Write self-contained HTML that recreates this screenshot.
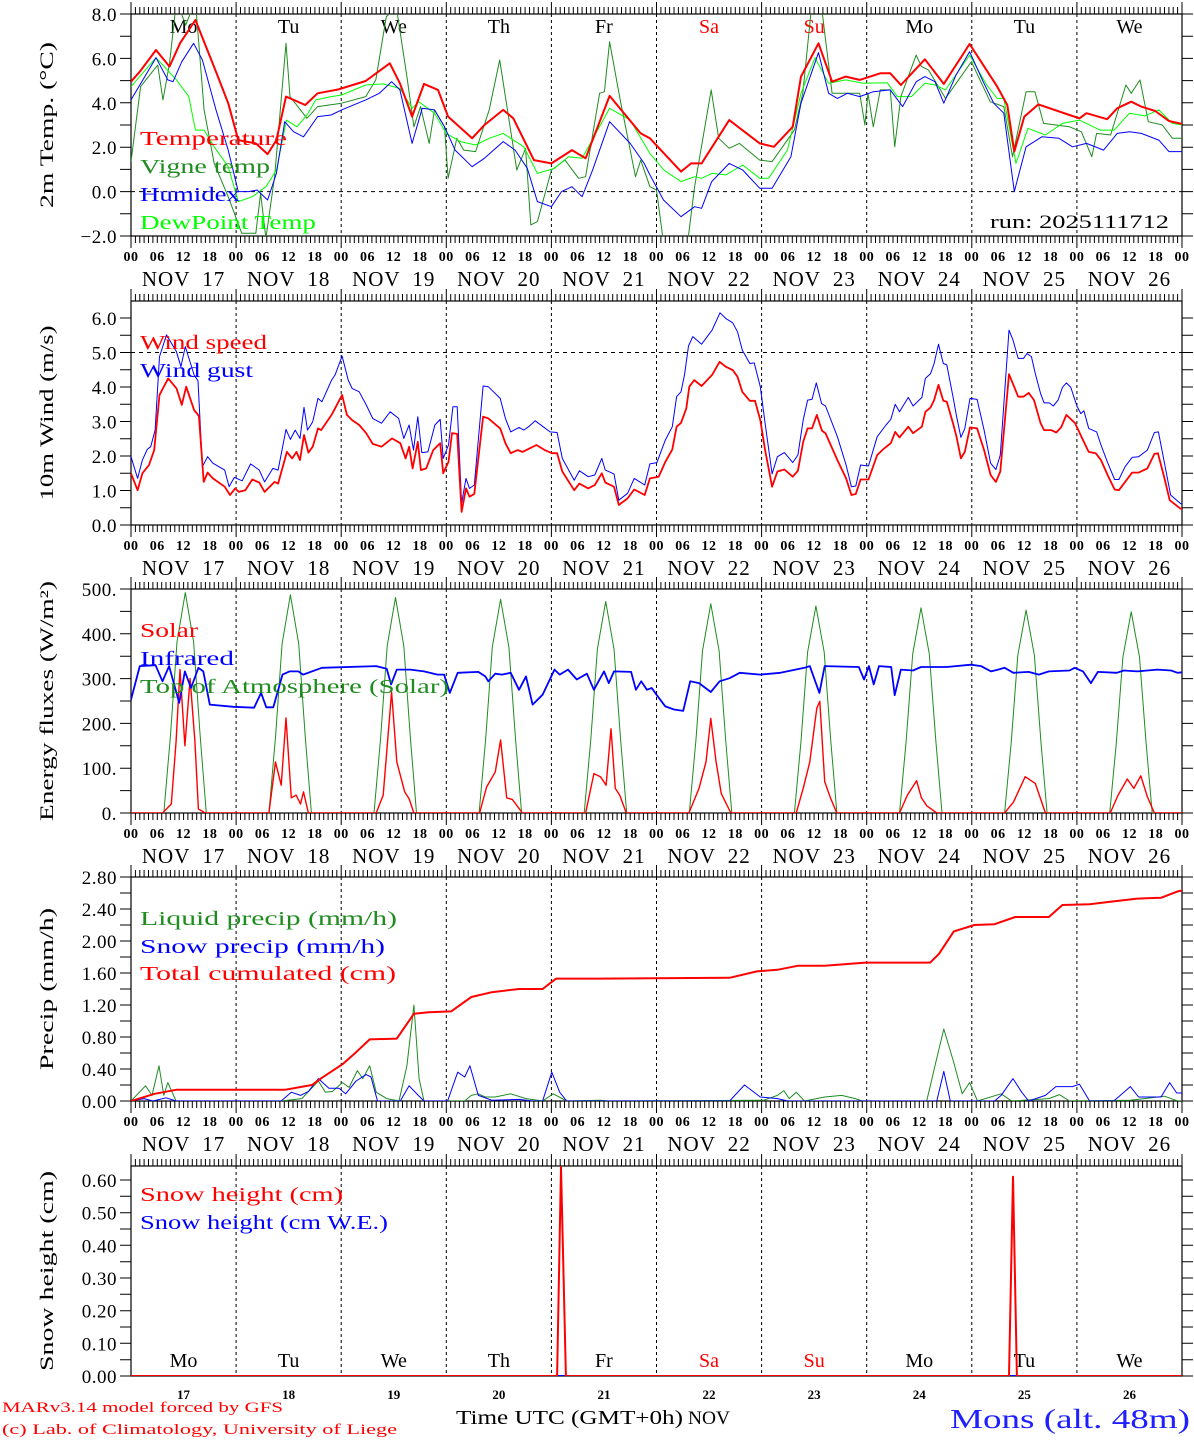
<!DOCTYPE html>
<html><head><meta charset="utf-8"><title>MAR forecast - Mons</title>
<style>
html,body{margin:0;padding:0;background:#fff;}
svg{display:block;font-family:"Liberation Serif",serif;}
</style></head>
<body>
<svg id="chart" xmlns="http://www.w3.org/2000/svg" width="1194" height="1440" viewBox="0 0 1194 1440">
<rect x="0" y="0" width="1194" height="1440" fill="#fff"/>
<defs>
<clipPath id="c1"><rect x="131" y="14" width="1051" height="222"/></clipPath>
<clipPath id="c2"><rect x="131" y="301" width="1051" height="224"/></clipPath>
<clipPath id="c3"><rect x="131" y="589" width="1051" height="224"/></clipPath>
<clipPath id="c4"><rect x="131" y="877" width="1051" height="224"/></clipPath>
<clipPath id="c5"><rect x="131" y="1166" width="1051" height="210"/></clipPath>
</defs>
<text x="2" y="1412" fill="#ff0000" font-size="15" textLength="281" lengthAdjust="spacingAndGlyphs">MARv3.14 model forced by GFS</text>
<text x="2" y="1434" fill="#ff0000" font-size="15" textLength="395" lengthAdjust="spacingAndGlyphs">(c) Lab. of Climatology, University of Liege</text>
<text x="456" y="1424" font-size="20" textLength="227" lengthAdjust="spacingAndGlyphs">Time UTC (GMT+0h)</text>
<text x="688" y="1424" font-size="19" textLength="42" lengthAdjust="spacingAndGlyphs">NOV</text>
<text x="950" y="1428" fill="#2020ff" font-size="27" textLength="240" lengthAdjust="spacingAndGlyphs">Mons (alt. 48m)</text>
<text x="990" y="228" font-size="19" textLength="179" lengthAdjust="spacingAndGlyphs">run: 2025111712</text>
</svg>
<script>
// ---------- data ----------
const dayNames = ["Mo","Tu","We","Th","Fr","Sa","Su","Mo","Tu","We"];
const dayNums = ["17","18","19","20","21","22","23","24","25","26"];
const hourLabels = ["00","06","12","18"];
const p1Ticks = [-2,0,2,4,6,8];
const p1TickLabels = ["\u22122.0","0.0","2.0","4.0","6.0","8.0"];
const p2Ticks = [0,1,2,3,4,5,6];
const p2TickLabels = ["0.0","1.0","2.0","3.0","4.0","5.0","6.0"];
const p3Ticks = [0,100,200,300,400,500];
const p3TickLabels = ["0.","100.","200.","300.","400.","500."];
const p4Ticks = [0,0.4,0.8,1.2,1.6,2.0,2.4,2.8];
const p4TickLabels = ["0.00","0.40","0.80","1.20","1.60","2.00","2.40","2.80"];
const p5Ticks = [0,0.1,0.2,0.3,0.4,0.5,0.6];
const p5TickLabels = ["0.00","0.10","0.20","0.30","0.40","0.50","0.60"];

const tempPts = [[0,4.95],[2,5.4],[5.7,6.38],[8.8,5.63],[11.2,6.68],[14.7,7.73],[19.4,5.4],[22.2,3.98],[24.5,2.32],[28.5,2.17],[31.2,1.69],[33.2,2.32],[35.4,4.28],[39.8,3.9],[42.6,4.43],[47.3,4.6],[53.6,4.98],[59.1,5.78],[61.4,4.88],[64.2,3.38],[66.9,4.85],[70.1,4.58],[72.4,3.38],[77.9,2.4],[80.7,3.0],[85,3.68],[87.3,3.3],[92,1.42],[96,1.27],[100.7,1.87],[103.8,1.5],[109.3,4.31],[116.4,2.62],[118.5,2.4],[125.6,0.9],[127.9,1.27],[130.3,1.27],[136.6,3.22],[143.6,2.17],[146.8,2.02],[151.1,2.92],[153,5.18],[157,6.68],[160.1,4.95],[163.2,5.18],[166.4,5.03],[171.1,5.33],[173.4,5.33],[175.8,4.8],[181.3,5.96],[185.6,4.85],[191.5,6.65],[197.8,4.73],[200.1,3.9],[201.7,1.8],[204,3.38],[207.2,3.93],[214.3,3.45],[216.6,3.3],[218.2,3.53],[222.9,3.26],[225.2,3.75],[228.4,4.05],[230.7,3.83],[233.9,3.63],[237,3.18],[240,3.05]];
const humPts = [[0,4.13],[5.7,6.03],[8.4,5.03],[9.6,4.95],[11.6,5.85],[14.3,6.68],[16.3,5.93],[19.4,3.68],[22.2,1.87],[24.5,0],[26.9,0],[28.8,0.07],[31.2,-0.38],[33.2,0.82],[35.1,3.15],[37.1,2.7],[39.4,2.47],[42.6,3.38],[45.7,3.45],[48.1,3.68],[53.6,4.13],[56.7,4.43],[59.5,4.95],[61.4,4.58],[64.2,2.17],[66.5,3.75],[69.3,3.68],[71.6,2.92],[74,1.87],[77.9,1.12],[80.7,1.5],[85,2.25],[87.7,1.87],[90.5,1.05],[92.8,-0.45],[96,-0.68],[98.3,0],[100.7,0.22],[103,-0.23],[105.4,0.97],[109.3,3.15],[114,2.17],[117.2,1.27],[118.5,0.75],[121.6,-0.38],[125.6,-1.13],[128.7,-0.68],[130.3,-0.75],[132.6,0.45],[136.6,1.27],[139.7,0.97],[143.6,0.15],[146.4,0.15],[150.7,1.57],[153,3.98],[157,6.26],[159.3,4.43],[161.3,4.2],[163.6,4.43],[166.4,4.28],[169.5,4.5],[173.4,4.58],[176.2,3.83],[179.3,4.95],[181.3,5.18],[183.6,4.95],[185.6,3.98],[188.4,5.25],[191.5,6.3],[194.6,4.95],[197,3.98],[199.3,3.53],[201.7,0],[204.4,2.02],[208,2.47],[211.9,2.4],[215,2.02],[218.2,2.17],[222.1,1.87],[225.2,2.62],[228,2.7],[230.7,2.62],[234.7,2.32],[237,1.8],[240,1.8]];
const dewPts = [[0,4.73],[5.7,6.03],[10.4,5.03],[13.2,4.28],[14.7,2.77],[16.7,2.77],[19,2.02],[22.2,1.12],[24.5,-0.45],[27.7,-0.23],[30.8,0.22],[33.2,0.97],[35.5,3.22],[37.9,2.92],[40.2,3.45],[42.2,4.13],[45.7,4.28],[48.1,4.35],[53.6,4.8],[57.5,4.85],[61.4,4.65],[64.2,3.75],[65.7,4.05],[69.3,3.53],[72,2.62],[75.2,2.25],[78.7,2.1],[81.8,2.4],[85,2.62],[89.7,2.02],[92.8,0.82],[96.7,1.05],[99.9,1.57],[103,1.5],[109.3,3.75],[114,3.22],[118.5,1.72],[121.7,0.97],[125.6,0.45],[128.7,0.67],[130.3,0.6],[132.6,0.82],[135.8,0.75],[139.7,1.2],[143.6,0.6],[145.6,0.6],[149.9,1.87],[153,4.43],[156.2,6.03],[159.3,4.88],[163.2,5.03],[167.2,4.88],[172.7,4.9],[175,4.28],[178.2,4.28],[181.3,4.88],[183.6,4.8],[186,4.58],[191.5,6.15],[195.4,4.8],[197.8,4.2],[199.3,4.2],[202.1,1.27],[204.8,2.85],[208.8,2.55],[212.7,3.07],[216.6,3.22],[221.3,2.77],[224.5,2.77],[228,3.53],[231.5,3.41],[234.7,3.68],[237.8,3.07],[240,3.0]];
const vignePts = [[0,1.35],[2.2,4.73],[6.1,5.7],[7.3,4.13],[8.8,5.78],[10.4,8.6],[12.5,7.5],[14.7,8.6],[16.7,3.68],[19,1.27],[22.2,-0.23],[25.3,-1.88],[28.5,-1.88],[29.6,-0.08],[30.8,-2.1],[32.8,0.67],[35.4,6.68],[36.3,4.28],[40.2,3.3],[42.6,3.83],[48.1,3.98],[53.6,4.28],[55.9,5.03],[58.3,7.88],[60.6,8.3],[63,5.18],[64.6,2.92],[66.1,3.83],[68.1,2.17],[69.3,3.68],[71.6,2.92],[72.4,0.6],[74.4,2.4],[76,1.87],[78.7,1.8],[81.8,3.68],[84.2,5.93],[88.1,0.97],[90.1,1.95],[91.3,-1.5],[92.8,-1.35],[96,0.97],[99.1,1.42],[102.2,0.6],[103.8,0.67],[107,4.43],[108.1,4.5],[109.3,6.75],[111.7,4.13],[115.2,0.67],[116.4,1.42],[118.5,0.22],[120,0.07],[121.6,-2.3],[127.1,-2.3],[128.7,0.22],[132.5,4.58],[134.2,2.4],[136.6,1.95],[138.9,2.17],[143.6,1.42],[146.4,1.35],[151.5,2.77],[153.4,4.43],[155.4,8.3],[157.7,8.3],[160.1,4.43],[163.2,4.43],[166.4,4.43],[167.6,3.0],[168.3,4.43],[169.5,2.92],[171.1,4.58],[173.4,4.58],[174.4,2.02],[175.8,4.28],[179.3,6.15],[180.5,5.63],[182.1,5.48],[186,4.2],[191.9,5.85],[196.2,4.05],[199.3,3.83],[201.3,1.57],[204.4,4.5],[206.4,4.5],[208.4,3.07],[214.3,2.92],[217,2.7],[219.4,1.57],[220.5,2.62],[223.7,2.55],[227.2,4.8],[228.4,4.43],[230.4,5.03],[232.3,3.15],[235.5,3.0],[237.8,2.4],[240,2.4]];

const windPts = [[0,1.5],[1.5,1.01],[2.6,1.5],[4.1,1.74],[5.3,2.17],[6.5,3.77],[8.5,4.25],[10.4,3.96],[11.6,3.48],[12.6,4.01],[14.4,3.33],[15.5,3.16],[16.6,1.25],[17.5,1.52],[18.7,1.35],[21.4,1.11],[22.6,0.87],[23.8,1.06],[24.6,0.96],[26.1,1.01],[27.7,1.32],[29.3,1.23],[30.5,0.96],[32.8,1.25],[33.6,1.2],[35.6,2.12],[36.8,1.93],[37.8,2.12],[38.6,1.88],[39.5,2.61],[40.5,2.1],[41.5,2.27],[42.7,2.8],[43.4,2.75],[45.8,3.19],[48.2,3.77],[49.3,3.19],[50.5,3.04],[52.1,2.9],[53.7,2.66],[55.2,2.35],[57.2,2.27],[59.6,2.51],[61.5,2.37],[62.7,1.93],[63.5,2.27],[64.3,1.64],[65.5,2.41],[66.2,1.59],[67.4,1.64],[69,2.17],[70.6,2.37],[71.3,1.5],[72.5,1.83],[73.3,2.66],[74.5,2.64],[75.5,0.38],[76.5,1.06],[77.3,0.82],[78.4,0.9],[80.4,3.14],[81.6,3.09],[84.3,2.8],[85.5,2.37],[86.7,2.08],[88.3,2.17],[89.4,2.12],[91,2.22],[92.6,2.32],[94.5,2.17],[96.1,2.08],[97.3,2.08],[98.5,1.55],[101.2,1.01],[102.4,1.2],[104.4,1.06],[105.9,1.16],[107.5,1.5],[108.3,1.23],[110.3,1.11],[111.4,0.58],[113.4,0.77],[114.9,1.03],[117.3,0.87],[118.5,1.35],[120.5,1.4],[122,1.83],[123.6,2.19],[124.6,2.85],[125.6,2.96],[126.8,3.38],[127.5,4.01],[128.6,4.2],[130.3,4.03],[132.7,4.35],[134.4,4.73],[135.8,4.59],[137.4,4.49],[138.5,4.3],[139.6,3.86],[141.3,3.6],[142.5,3.6],[143.7,3.04],[144.8,2.17],[146.4,1.11],[147.6,1.55],[149.2,1.61],[151.1,1.4],[152.3,1.57],[153.5,2.41],[154.5,2.8],[155.5,2.8],[156.6,3.19],[157.8,2.73],[158.6,2.66],[161.3,1.88],[163.3,1.35],[164.5,0.87],[165.5,0.9],[166.6,1.32],[168.4,1.32],[170.4,2.03],[172,2.22],[173.5,2.37],[174.5,2.7],[175.5,2.54],[177.5,2.85],[178.6,2.66],[180.6,2.85],[181.4,3.28],[182.6,3.41],[183.4,3.62],[184.4,4.06],[185.5,3.6],[186.3,3.57],[187.7,2.95],[188.5,2.56],[189.5,1.93],[190.4,2.12],[191.6,2.83],[193.2,2.8],[194.8,2.17],[196.3,1.45],[197.5,1.25],[198.5,1.55],[200.5,4.37],[202.6,3.72],[203.8,3.72],[205,3.83],[206.2,3.62],[207.7,2.95],[208.5,2.75],[210.1,2.75],[211.3,2.68],[212.4,2.83],[213.6,3.19],[215.6,2.95],[217.2,2.51],[218.7,2.12],[220.3,2.08],[221.5,1.88],[223,1.45],[224.6,1.03],[225.6,1.01],[227,1.25],[228.6,1.52],[230.1,1.52],[232.1,1.64],[233.7,2.06],[234.5,2.08],[236,1.35],[237.2,0.72],[239.6,0.48],[240,0.46]];
const gustPts = [[0,1.98],[1.5,1.35],[2.6,1.88],[3.7,2.19],[4.5,2.27],[5.5,2.75],[6.5,4.88],[8.1,5.51],[10.4,5.02],[11.4,4.59],[12.4,5.17],[14.4,4.35],[15.3,4.18],[16.3,1.69],[17.5,1.98],[18.7,1.79],[21.4,1.59],[22.4,1.11],[23.6,1.38],[25.4,1.28],[27.3,1.77],[29.3,1.59],[30.5,1.25],[32.4,1.64],[33.6,1.59],[35.4,2.77],[36.4,2.48],[37.5,2.75],[38.6,2.51],[39.5,3.41],[40.3,2.75],[41.5,2.99],[42.7,3.67],[43.6,3.57],[45.8,4.2],[46.6,4.35],[48.2,4.9],[49.6,4.2],[50.5,3.96],[52.1,3.86],[53.7,3.48],[55.2,3.09],[57.2,2.95],[59.2,3.28],[61.1,3.09],[62.3,2.51],[63.5,2.9],[64.5,2.17],[65.5,3.14],[66.4,2.1],[67.8,2.12],[69.4,2.9],[70.6,3.06],[71.3,1.93],[72.5,2.32],[73.5,3.43],[74.5,3.43],[75.5,0.63],[76.5,1.35],[77.3,1.06],[78.4,1.16],[80.4,4.03],[81.6,4.01],[84.3,3.67],[85.5,3.09],[86.7,2.7],[88.6,2.83],[89.7,2.75],[90.8,2.85],[92.3,3.02],[94.1,2.85],[95.7,2.7],[97.3,2.68],[98.5,1.93],[101.2,1.3],[102.4,1.57],[104.4,1.4],[105.9,1.45],[107.5,1.93],[108.3,1.59],[110.3,1.48],[111.4,0.72],[113.4,0.92],[114.9,1.35],[117.3,1.16],[118.5,1.77],[120.1,1.81],[122,2.46],[123.6,2.85],[124.6,3.72],[125.6,3.86],[126.4,4.35],[127.3,5.19],[128.3,5.46],[130.3,5.24],[132.7,5.65],[134.5,6.15],[135.8,5.99],[137.4,5.86],[138.5,5.6],[139.6,5.07],[141.3,4.68],[142.3,4.7],[143.7,4.01],[144.8,2.95],[146.4,1.48],[147.6,1.98],[149.2,2.1],[151.1,1.81],[152.3,2.03],[153.5,3.04],[154.5,3.62],[155.5,3.64],[156.5,4.12],[157.7,3.52],[158.6,3.45],[161.3,2.56],[163.3,1.74],[164.5,1.11],[165.5,1.13],[166.6,1.74],[168.4,1.71],[170.4,2.56],[172.4,2.9],[173.5,3.06],[174.5,3.5],[175.5,3.28],[177.5,3.7],[178.6,3.45],[180.6,3.7],[181.4,4.25],[182.6,4.39],[183.4,4.68],[184.4,5.24],[185.5,4.68],[186.3,4.64],[187.7,3.72],[188.5,3.16],[189.5,2.54],[190.4,2.8],[191.6,3.67],[193.2,3.64],[194.8,2.75],[196.3,1.79],[197.5,1.61],[198.5,2.03],[200.5,5.65],[201.4,5.36],[202.6,4.83],[203.8,4.83],[204.6,4.97],[205.6,4.88],[206.5,4.39],[207.7,3.81],[208.5,3.54],[209.7,3.54],[210.6,3.45],[211.7,3.62],[212.7,3.99],[213.6,4.12],[214.6,3.99],[216,3.45],[216.9,3.23],[217.6,3.31],[218.7,2.8],[220.5,2.7],[221.5,2.32],[223,1.81],[224.6,1.32],[225.6,1.32],[227,1.69],[228.6,1.96],[230.1,1.98],[232.1,2.17],[233.7,2.68],[234.6,2.7],[236,1.79],[237.4,0.87],[239.6,0.63],[240,0.6]];

const solarPts = [[0,0],[7.2,0],[9.2,20],[10.3,160],[11.2,320],[12.3,150],[13.5,300],[14.6,160],[15.4,9],[17,0],[31.5,0],[33,114],[34.3,62],[35.4,212],[36.6,34],[37.7,40],[38.7,20],[39.4,47],[40.5,0],[56,0],[57.6,40],[59.5,270],[60.7,114],[62.5,47],[63.5,32],[64.6,0],[79.6,0],[81.2,58],[83.2,92],[84.4,163],[85.8,34],[87.1,30],[89.4,0],[103.8,0],[105.7,88],[107.2,81],[108.5,62],[109.6,188],[110.6,55],[111.6,40],[113.1,0],[127.4,0],[129.7,55],[131.3,114],[132.4,211],[133.6,114],[134.8,43],[137,0],[151.9,0],[153.5,55],[155,114],[156.6,234],[157.3,249],[158.4,70],[159.7,34],[161.2,0],[175.5,0],[177.3,40],[179.4,72],[180.5,34],[181.7,16],[184,0],[199.5,0],[201.5,24],[204.2,81],[206.5,66],[208.8,0],[223.6,0],[225.4,40],[227.5,76],[229,55],[230.6,83],[232.1,36],[233.7,0],[240,0]];
const irPts = [[0,253],[2,328],[5.6,330],[7.2,294],[8.7,328],[11,246],[12.3,316],[13.7,279],[15.4,324],[16.5,316],[18,242],[23.4,237],[28.1,235],[29.7,268],[30.9,236],[32.5,236],[34.6,309],[36.2,316],[38.2,316],[39.3,309],[43.6,324],[56,328],[58.4,322],[59.4,287],[60.7,320],[63.8,320],[66.9,316],[70,309],[71.5,309],[72.8,268],[74.6,313],[79.3,315],[80.9,305],[81.6,294],[83.2,311],[84.7,309],[86.7,313],[88.6,275],[90.2,305],[91.7,242],[94,264],[96.7,320],[97.9,309],[99.8,320],[101.8,298],[104.1,311],[105.7,275],[108,316],[109.1,290],[110.3,316],[114.2,315],[115.3,275],[116.5,294],[117.8,275],[118.9,279],[120,264],[122,238],[124,231],[126.1,228],[127.7,294],[129.7,290],[132.4,270],[134.4,294],[136.7,301],[139,313],[143.7,309],[148.3,313],[153.8,324],[155,328],[157.2,268],[158.4,328],[166.2,326],[167.4,298],[168.5,328],[169.6,287],[170.8,328],[173.6,326],[174.4,263],[175.8,320],[178.6,318],[180.4,326],[186.3,326],[191.8,331],[194.1,328],[196.4,316],[198,320],[199.5,324],[201.5,313],[205,315],[207.3,309],[209.6,316],[214.3,318],[215.5,324],[217.4,316],[219.2,290],[220.8,315],[225.1,313],[226.7,318],[229.8,316],[234.4,320],[237.5,318],[239,313],[240,314]];
const toaPts = [[0,0],[7.5,0],[9,171],[10.5,382],[12.4,492],[14.3,382],[15.8,171],[17.2,0],
[31.5,0],[33,169],[34.5,378],[36.4,487],[38.3,378],[39.8,169],[41.2,0],
[55.5,0],[57,167],[58.5,373],[60.4,481],[62.3,373],[63.8,167],[65.2,0],
[79.5,0],[81,166],[82.5,370],[84.4,477],[86.3,370],[87.8,166],[89.2,0],
[103.5,0],[105,164],[106.5,366],[108.4,472],[110.3,366],[111.8,164],[113.2,0],
[127.5,0],[129,162],[130.5,362],[132.4,467],[134.3,362],[135.8,162],[137.2,0],
[151.5,0],[153,160],[154.5,359],[156.4,462],[158.3,359],[159.8,160],[161.2,0],
[175.5,0],[177,159],[178.5,355],[180.4,458],[182.3,355],[183.8,159],[185.2,0],
[199.5,0],[201,157],[202.5,352],[204.4,453],[206.3,352],[207.8,157],[209.2,0],
[223.5,0],[225,156],[226.5,348],[228.4,449],[230.3,348],[231.8,156],[233.2,0],[240,0]];

const cumPts = [[0,0],[5.4,0.09],[10.3,0.14],[35.1,0.14],[41.3,0.2],[43.6,0.29],[48.3,0.46],[51.4,0.61],[54.5,0.77],[60.7,0.78],[64.6,1.09],[68,1.11],[73.1,1.12],[77.7,1.3],[82.4,1.36],[88.6,1.4],[94,1.4],[97.1,1.53],[107.2,1.53],[136.7,1.54],[142.9,1.62],[147.6,1.64],[152.2,1.69],[158.4,1.69],[167.7,1.73],[182.5,1.73],[184.5,1.84],[187.9,2.12],[192.6,2.2],[197.2,2.21],[201.9,2.3],[209.6,2.3],[212.7,2.45],[218.9,2.46],[223.6,2.49],[229.8,2.53],[235.2,2.54],[239,2.62],[240,2.63]];
const liqPts = [[0,0],[3.3,0.19],[4.8,0.07],[6.4,0.44],[7.5,0.07],[8.4,0.23],[10.3,0],[34.3,0],[39,0.03],[42.8,0.25],[44.4,0.11],[46,0.12],[48.3,0.23],[49.8,0.17],[51.7,0.38],[52.9,0.28],[54.5,0.44],[56,0.11],[58.4,0.03],[61.2,0],[63,0.44],[64.6,1.2],[65.8,0.28],[66.9,0],[76.2,0],[77.7,0.07],[79.3,0.09],[80.9,0.05],[83.2,0.05],[86.7,0.09],[90.2,0.03],[94,0],[96.4,0.09],[99.5,0],[107.2,0.01],[109,0],[144.5,0.01],[147.6,0.07],[149.1,0.13],[150.3,0.03],[151.9,0.11],[153.8,0],[158.4,0.05],[162.3,0.07],[165.4,0.03],[167,0],[181.7,0],[183.6,0.44],[185.6,0.9],[187.9,0.48],[189.8,0.09],[191.5,0.23],[193.3,0],[198.7,0.09],[201.1,0],[209.6,0.03],[212,0.08],[214.3,0],[228.2,0.01],[236,0.06],[239,0],[240,0]];
const snowPts = [[0,0],[3,0.03],[5,0],[8,0.04],[10.3,0],[34.3,0],[36.6,0.11],[38.7,0.07],[40.5,0.12],[42.8,0.28],[45.2,0.16],[47.5,0.16],[49,0.09],[51.4,0.25],[53.7,0.33],[54.8,0.3],[56.3,0],[61.5,0],[63.5,0.19],[65.6,0.07],[66.9,0],[72.3,0],[74.6,0.36],[76.2,0.3],[77.4,0.44],[79.3,0.07],[82.4,0.01],[88.6,0.02],[91.7,0],[94,0],[96.1,0.36],[97.9,0.11],[99.5,0],[136.7,0],[140.1,0.2],[143.7,0.05],[147.6,0.03],[150,0],[184,0],[185.6,0.37],[187.1,0],[197.2,0],[198.7,0.07],[201.4,0.28],[203.4,0.11],[205,0],[208.8,0.07],[211.2,0.18],[215,0.18],[216.6,0.21],[218.9,0],[224.4,0],[225.9,0.07],[228.2,0.18],[230.1,0.05],[235.2,0.05],[237.2,0.23],[238.8,0.1],[240,0.1]];

const snowHPts = [[0,0],[97.3,0],[98.2,0.64],[99.3,0],[200.5,0],[201.4,0.61],[202.3,0],[240,0]];
const snowWePts = [[0,0],[240,0]];

// ---------- drawing ----------
const NS = "http://www.w3.org/2000/svg";
const svg = document.getElementById("chart");
const X0 = 131, X1 = 1182, HMAX = 240;
function xs(h){ return X0 + h*(X1-X0)/HMAX; }
function mk(tag, attrs, parent){
  const e = document.createElementNS(NS, tag);
  for (const k in attrs) e.setAttribute(k, attrs[k]);
  (parent||svg).appendChild(e);
  return e;
}
const panels = [
 {id:1, top:14, bottom:236, ymin:-2, ymax:8, minor:1, ticks:p1Ticks, labels:p1TickLabels, title:"2m Temp. (\u00B0C)", tw:166, hourAxis:true},
 {id:2, top:301, bottom:525, ymin:0, ymax:6.493, minor:0.5, ticks:p2Ticks, labels:p2TickLabels, title:"10m Wind (m/s)", tw:175, hourAxis:true},
 {id:3, top:589, bottom:813, ymin:0, ymax:500, minor:50, ticks:p3Ticks, labels:p3TickLabels, title:"Energy fluxes (W/m\u00B2)", tw:240, hourAxis:true},
 {id:4, top:877, bottom:1101, ymin:0, ymax:2.8, minor:0.2, ticks:p4Ticks, labels:p4TickLabels, title:"Precip (mm/h)", tw:162, hourAxis:true},
 {id:5, top:1166, bottom:1376, ymin:0, ymax:0.6428, minor:0.05, ticks:p5Ticks, labels:p5TickLabels, title:"Snow height (cm)", tw:200, hourAxis:false}
];
function ys(p, v){ return p.top + (p.ymax - v)/(p.ymax - p.ymin)*(p.bottom - p.top); }

function drawPanel(p){
  const g = mk("g", {});
  
  
  for (let d=1; d<10; d++){
    const x = xs(d*24);
    const l = mk("line", {x1:x, x2:x, y1:p.top, y2:p.bottom, stroke:"#000", "stroke-width":1, "stroke-dasharray":"3,3"}, g);
    
    
  }
  const fr = mk("rect", {x:X0, y:p.top, width:X1-X0, height:p.bottom-p.top, fill:"none", stroke:"#000", "stroke-width":1.2}, g);
  
  
  let d = "";
  for (let h=0; h<=HMAX; h++){
    const x = xs(h).toFixed(1);
    const len = (h%24===0) ? 12 : 7;
    d += "M"+x+","+p.top+"v"+(-len);
    if (p.hourAxis) d += "M"+x+","+p.bottom+"v"+len;
  }
  const tk = mk("path", {d:d, stroke:"#000", "stroke-width":1, fill:"none"}, g);
  
  
  let yd = "";
  const n = Math.round((p.ymax - p.ymin)/p.minor + 1e-6);
  for (let i=0; i<=n; i++){
    const v = p.ymin + i*p.minor;
    if (v > p.ymax + 1e-9) break;
    const y = ys(p, v).toFixed(1);
    yd += "M"+(X0-11)+","+y+"h11M"+X1+","+y+"h11";
  }
  const yt = mk("path", {d:yd, stroke:"#000", "stroke-width":1, fill:"none"}, g);
  
  
  for (let i=0; i<p.ticks.length; i++){
    const t = mk("text", {x:117, y:ys(p, p.ticks[i])+7, "text-anchor":"end", "font-size":19, "letter-spacing":0.5}, g);
    t.textContent = p.labels[i];
    
    
  }
  const cy = (p.top + p.bottom)/2;
  const yt2 = mk("text", {x:-p.tw/2, y:0, transform:"translate(53,"+cy+") rotate(-90)", "font-size":19, textLength:p.tw, lengthAdjust:"spacingAndGlyphs"}, g);
  yt2.textContent = p.title;
  
  
  if (p.hourAxis){
    for (let h=0; h<=HMAX; h+=6){
      const t = mk("text", {x:xs(h), y:p.bottom+25, "text-anchor":"middle", "font-size":14, "font-weight":"bold", "letter-spacing":0.5}, g);
      t.textContent = hourLabels[(h/6)%4];
      
      
    }
    for (let dd=0; dd<10; dd++){
      const t = mk("text", {x:xs(dd*24+12), y:p.bottom+50, "text-anchor":"middle", "font-size":21, "letter-spacing":1, "word-spacing":6}, g);
      t.textContent = "NOV " + dayNums[dd];
      
      
    }
  }
  return g;
}
function series(p, pts, color, w, name){
  let d = "";
  pts.forEach((q,i)=>{ d += (i?"L":"M") + xs(q[0]).toFixed(1) + "," + ys(p, q[1]).toFixed(1); });
  const e = mk("path", {d:d, stroke:color, "stroke-width":w, fill:"none", "stroke-linejoin":"round", "clip-path":"url(#c"+p.id+")"});
  
  
  return e;
}
function legend(y, txt, color, wdt, name){
  const t = mk("text", {x:140, y:y, fill:color, "font-size":20, textLength:wdt, lengthAdjust:"spacingAndGlyphs"});
  t.textContent = txt;
  
  
}
function hdash(p, v){
  const y = ys(p, v);
  const l = mk("line", {x1:X0, x2:X1, y1:y, y2:y, stroke:"#000", "stroke-width":1, "stroke-dasharray":"4,4"});
  
  
}
function dayNameRow(y){
  for (let dd=0; dd<10; dd++){
    const t = mk("text", {x:xs(dd*24+12), y:y, "text-anchor":"middle", "font-size":20, fill:(dd===5||dd===6)?"#ff0000":"#000"});
    t.textContent = dayNames[dd];
    
    
  }
}

panels.forEach(drawPanel);
const [P1,P2,P3,P4,P5] = panels;

hdash(P1, 0);
dayNameRow(33);
series(P1, vignePts, "#1f8c1f", 1, "vigne-temp-line");
series(P1, dewPts, "#00ff00", 1, "dewpoint-line");
series(P1, humPts, "#0000ff", 1, "humidex-line");
series(P1, tempPts, "#ff0000", 2, "temperature-line");
legend(145, "Temperature", "#ff0000", 147, "legend-temperature");
legend(173, "Vigne temp", "#1f8c1f", 130, "legend-vigne-temp");
legend(201, "Humidex", "#0000ff", 100, "legend-humidex");
legend(229, "DewPoint Temp", "#00ff00", 176, "legend-dewpoint");

hdash(P2, 5);
series(P2, gustPts, "#0000ff", 1, "wind-gust-line");
series(P2, windPts, "#ff0000", 1.8, "wind-speed-line");
legend(349, "Wind speed", "#ff0000", 127, "legend-wind-speed");
legend(377, "Wind gust", "#0000ff", 113, "legend-wind-gust");

series(P3, toaPts, "#1f8c1f", 1, "toa-solar-line");
series(P3, solarPts, "#ff0000", 1.4, "solar-line");
series(P3, irPts, "#0000ff", 1.8, "infrared-line");
legend(637, "Solar", "#ff0000", 58, "legend-solar");
legend(665, "Infrared", "#0000ff", 94, "legend-infrared");
legend(693, "Top of Atmosphere (Solar)", "#1f8c1f", 309, "legend-toa");

series(P4, liqPts, "#1f8c1f", 1, "liquid-precip-line");
series(P4, snowPts, "#0000ff", 1, "snow-precip-line");
series(P4, cumPts, "#ff0000", 2, "total-cumulated-line");
legend(925, "Liquid precip (mm/h)", "#1f8c1f", 257, "legend-liquid-precip");
legend(953, "Snow precip (mm/h)", "#0000ff", 245, "legend-snow-precip");
legend(980, "Total cumulated (cm)", "#ff0000", 256, "legend-total-cumulated");

dayNameRow(1367);
series(P5, snowWePts, "#0000ff", 2, "snow-height-we-line");
series(P5, snowHPts, "#ff0000", 2, "snow-height-line");
legend(1201, "Snow height (cm)", "#ff0000", 203, "legend-snow-height");
legend(1229, "Snow height (cm W.E.)", "#0000ff", 248, "legend-snow-height-we");
for (let dd=0; dd<10; dd++){
  const t = mk("text", {x:xs(dd*24+12), y:1399, "text-anchor":"middle", "font-size":13, "font-weight":"bold"});
  t.textContent = dayNums[dd];
  
  
}
</script>
</body></html>
